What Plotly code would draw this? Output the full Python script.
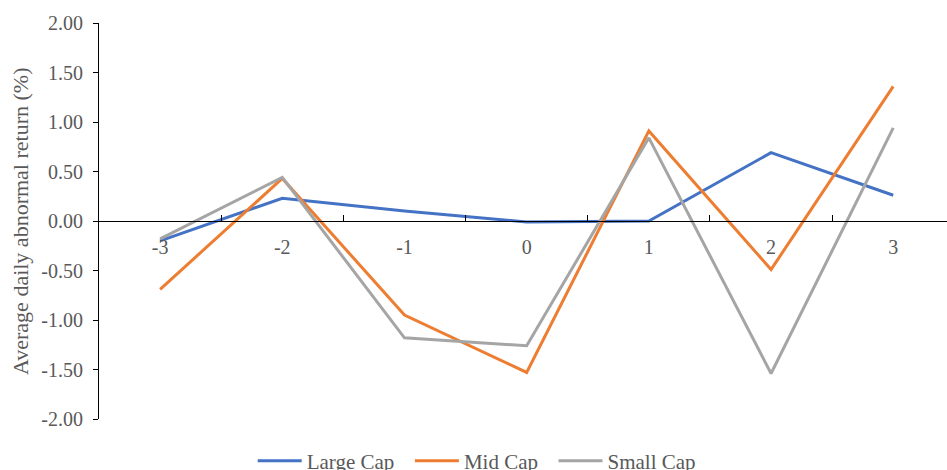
import plotly.graph_objects as go

# Event window (days relative to the event)
days = ["-3", "-2", "-1", "0", "1", "2", "3"]

# Average daily abnormal return (%) by market-cap group
large_cap = [-0.20, 0.23, 0.10, -0.01, 0.00, 0.69, 0.26]
mid_cap = [-0.69, 0.43, -0.95, -1.53, 0.91, -0.49, 1.36]
small_cap = [-0.18, 0.44, -1.18, -1.26, 0.84, -1.54, 0.94]

y_ticks = [-2.0, -1.5, -1.0, -0.5, 0.0, 0.5, 1.0, 1.5, 2.0]
y_ticktext = [f"{v:.2f}" for v in y_ticks]  # hyphen-minus, two decimals
y_title = "Average daily abnormal return (%)"

FONT = "Liberation Serif"
GREY = "#595959"
NBSP = "\u00a0"

series = [
    ("Large Cap", large_cap, "#4472C4"),
    ("Mid Cap", mid_cap, "#ED7D31"),
    ("Small Cap", small_cap, "#A5A5A5"),
]

fig = go.Figure()
for name, vals, color in series:
    fig.add_trace(go.Scatter(
        x=days, y=vals, name=name + NBSP * 2, mode="lines",
        line=dict(color=color, width=3),
    ))

# empty trace that registers the label-only axis
fig.add_trace(go.Scatter(x=[], y=[], yaxis="y2", showlegend=False,
                         hoverinfo="skip"))

fig.update_layout(
    width=947, height=470,
    margin=dict(l=60, r=0, t=23, b=51, autoexpand=False),
    paper_bgcolor="white", plot_bgcolor="white",
    font=dict(family=FONT, size=20, color=GREY),
    showlegend=True,
    legend=dict(
        orientation="h", x=0.476, xanchor="center",
        y=-0.106, yanchor="middle",
        font=dict(family=FONT, size=21, color=GREY),
        itemwidth=44, tracegroupgap=0,
    ),
    # category axis drawn through y = 0, ticks between categories
    xaxis=dict(
        type="category",
        categoryorder="array", categoryarray=days,
        domain=[0.04397, 1.0],
        range=[-0.5, 6.44],
        anchor="free", position=0.5,
        showline=True, linecolor="black", linewidth=1,
        ticks="inside", ticklen=6, tickcolor="black",
        tickson="boundaries",
        showgrid=False, zeroline=False,
        ticklabelstandoff=8,
        tickfont=dict(family=FONT, size=20, color=GREY),
    ),
    # value axis line and tick marks
    yaxis=dict(
        range=[-2, 2],
        tickvals=y_ticks, showticklabels=False,
        showline=True, linecolor="black", linewidth=1,
        ticks="outside", ticklen=5, tickcolor="black",
        showgrid=False, zeroline=False,
    ),
    # label-only axis, placed left of the tick marks
    yaxis2=dict(
        overlaying="y", anchor="free", position=0.0259,
        range=[-2, 2], tickvals=y_ticks, ticktext=y_ticktext,
        showline=False, ticks="", showgrid=False, zeroline=False,
        tickfont=dict(family=FONT, size=20, color=GREY),
    ),
)

# rotated y-axis title
fig.add_annotation(
    text=y_title, textangle=-90,
    xref="paper", yref="paper", x=-0.0451, y=0.5,
    xanchor="center", yanchor="middle", showarrow=False,
    font=dict(family=FONT, size=22, color=GREY),
)

fig.write_html("out.html")
